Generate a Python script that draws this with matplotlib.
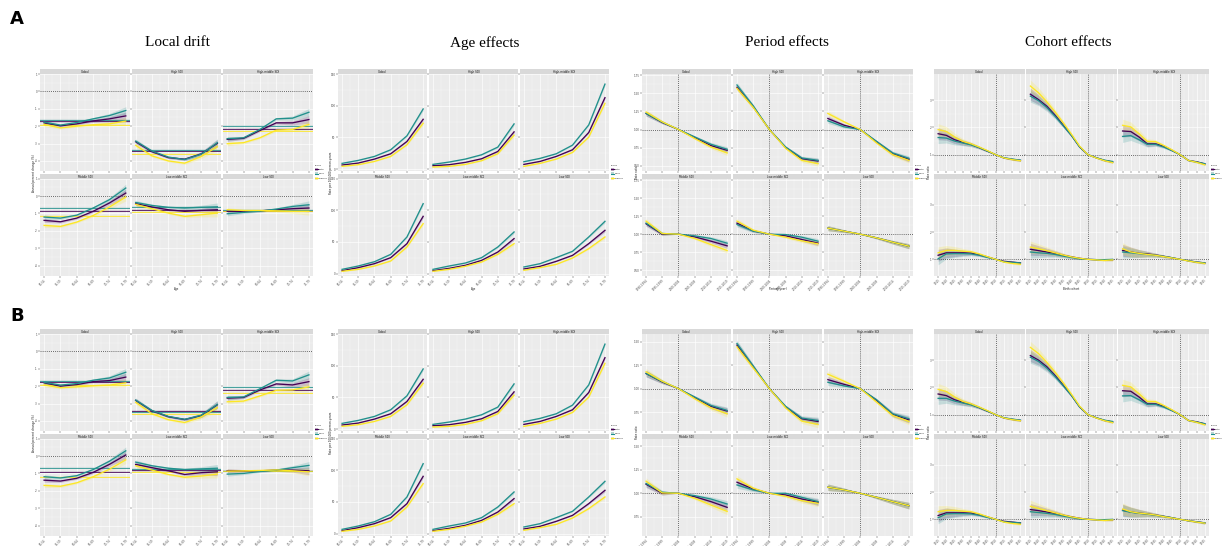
import matplotlib
matplotlib.use("Agg")
import matplotlib.pyplot as plt
from matplotlib.patches import Rectangle
import numpy as np

# ---- data ----
FACETS = ["Global", "High SDI", "High-middle SDI", "Middle SDI", "Low-middle SDI", "Low SDI"]
GROUPS = ["Both", "Male", "Female"]
COLORS = ["#440154", "#21908C", "#FDE725"]

AGES = ["50-54", "55-59", "60-64", "65-69", "70-74", "75-79"]
PERIODS = ["1990-1994", "1995-1999", "2000-2004", "2005-2009", "2010-2014", "2015-2019"]
COHORTS = ["1915", "1920", "1925", "1930", "1935", "1940", "1945", "1950", "1955", "1960", "1965"]

# local drift (Both, Male, Female) and net drift
DRIFT_A = {
    "Global":          ([-1.81, -1.98, -1.87, -1.70, -1.58, -1.41], [-1.77, -1.94, -1.79, -1.58, -1.39, -1.10], [-1.90, -2.10, -2.00, -1.92, -1.87, -1.71]),
    "High SDI":        ([-2.90, -3.47, -3.81, -3.90, -3.60, -2.99], [-2.86, -3.43, -3.78, -3.92, -3.62, -2.95], [-3.10, -3.71, -4.00, -4.13, -3.75, -3.18]),
    "High-middle SDI": ([-2.76, -2.70, -2.25, -1.81, -1.81, -1.62], [-2.72, -2.67, -2.19, -1.58, -1.54, -1.20], [-3.01, -2.95, -2.67, -2.23, -2.19, -1.90]),
    "Middle SDI":      ([-1.40, -1.48, -1.27, -0.88, -0.40, 0.17], [-1.21, -1.27, -1.10, -0.69, -0.21, 0.46], [-1.69, -1.75, -1.50, -1.12, -0.63, -0.06]),
    "Low-middle SDI":  ([-0.44, -0.63, -0.79, -0.88, -0.83, -0.79], [-0.37, -0.54, -0.65, -0.69, -0.65, -0.62], [-0.48, -0.73, -0.98, -1.17, -1.08, -0.98]),
    "Low SDI":         ([-0.88, -0.88, -0.85, -0.79, -0.73, -0.69], [-1.02, -0.94, -0.87, -0.75, -0.60, -0.50], [-0.79, -0.83, -0.83, -0.85, -0.88, -0.88]),
}
NET_A = {"Global": (-1.73, -1.62, -1.92), "High SDI": (-3.43, -3.40, -3.58), "High-middle SDI": (-2.15, -2.00, -2.30),
         "Middle SDI": (-0.85, -0.69, -1.17), "Low-middle SDI": (-0.81, -0.65, -0.94), "Low SDI": (-0.85, -0.83, -0.88)}

DRIFT_B = {
    "Global":          ([-1.81, -2.00, -1.91, -1.74, -1.68, -1.48], [-1.78, -1.94, -1.85, -1.66, -1.53, -1.20], [-1.93, -2.09, -2.04, -1.98, -1.94, -1.81]),
    "High SDI":        ([-2.82, -3.42, -3.76, -3.92, -3.70, -3.07], [-2.80, -3.40, -3.74, -3.91, -3.68, -3.05], [-2.93, -3.59, -3.93, -4.09, -3.78, -3.23]),
    "High-middle SDI": ([-2.69, -2.65, -2.22, -1.87, -1.93, -1.74], [-2.65, -2.62, -2.15, -1.66, -1.70, -1.35], [-2.90, -2.86, -2.56, -2.24, -2.22, -2.04]),
    "Middle SDI":      ([-1.39, -1.44, -1.28, -0.94, -0.48, 0.06], [-1.19, -1.26, -1.13, -0.78, -0.30, 0.30], [-1.69, -1.74, -1.54, -1.19, -0.76, -0.22]),
    "Low-middle SDI":  ([-0.48, -0.67, -0.85, -1.06, -0.96, -0.91], [-0.35, -0.56, -0.70, -0.78, -0.74, -0.70], [-0.56, -0.81, -1.06, -1.22, -1.15, -1.04]),
    "Low SDI":         ([-0.85, -0.85, -0.85, -0.81, -0.81, -0.85], [-1.04, -1.00, -0.89, -0.81, -0.67, -0.54], [-0.87, -0.85, -0.83, -0.80, -0.85, -0.91]),
}
NET_B = {"Global": (-1.78, -1.68, -1.91), "High SDI": (-3.44, -3.51, -3.61), "High-middle SDI": (-2.21, -2.06, -2.41),
         "Middle SDI": (-0.93, -0.70, -1.22), "Low-middle SDI": (-0.83, -0.74, -0.91), "Low SDI": (-0.85, -0.84, -0.86)}

# age effects, rate per 100,000
AGE_A = {
    "Global":          ([6.3, 9.4, 15.7, 24.1, 43.5, 78.5], [8.9, 13.6, 19.9, 30.4, 52.4, 94.8], [4.2, 6.8, 12.0, 19.9, 38.2, 72.3]),
    "High SDI":        ([5.2, 6.8, 10.5, 16.2, 27.7, 58.6], [7.3, 11.0, 15.7, 22.5, 34.6, 71.2], [3.1, 4.2, 7.3, 13.1, 24.1, 53.4]),
    "High-middle SDI": ([7.3, 12.0, 19.9, 30.4, 57.6, 112.6], [11.5, 16.8, 24.1, 37.7, 69.6, 134.0], [4.2, 8.9, 15.7, 26.2, 50.3, 103.7]),
    "Middle SDI":      ([4.7, 9.5, 15.8, 25.3, 47.4, 90.5], [6.8, 12.1, 18.9, 30.5, 57.9, 110.5], [3.7, 6.8, 12.1, 20.0, 42.1, 79.0]),
    "Low-middle SDI":  ([4.7, 8.4, 13.2, 21.0, 34.2, 55.3], [6.8, 12.1, 16.8, 25.3, 42.1, 65.8], [3.7, 6.8, 11.6, 18.4, 30.5, 47.4]),
    "Low SDI":         ([7.4, 11.6, 19.5, 28.9, 47.4, 68.4], [10.5, 15.8, 25.3, 35.3, 57.9, 82.6], [5.3, 9.5, 14.7, 24.7, 39.5, 57.9]),
}
AGE_B = AGE_A

# period effects, rate ratio
PERIOD_A = {
    "Global":          ([1.223, 1.098, 1.0, 0.888, 0.777, 0.712], [1.223, 1.102, 1.0, 0.898, 0.796, 0.726], [1.242, 1.107, 1.0, 0.875, 0.758, 0.675]),
    "High SDI":        ([1.586, 1.316, 1.0, 0.749, 0.596, 0.563], [1.618, 1.330, 1.0, 0.758, 0.605, 0.572], [1.572, 1.307, 1.0, 0.740, 0.572, 0.526]),
    "High-middle SDI": ([1.153, 1.060, 1.0, 0.828, 0.665, 0.586], [1.121, 1.037, 1.0, 0.837, 0.675, 0.600], [1.223, 1.107, 1.0, 0.814, 0.651, 0.572]),
    "Middle SDI":      ([1.144, 1.000, 1.0, 0.963, 0.903, 0.838], [1.153, 1.009, 1.0, 0.977, 0.940, 0.875], [1.181, 1.009, 1.0, 0.940, 0.856, 0.773]),
    "Low-middle SDI":  ([1.153, 1.046, 1.0, 0.977, 0.926, 0.875], [1.134, 1.042, 1.0, 0.995, 0.958, 0.903], [1.181, 1.056, 1.0, 0.958, 0.907, 0.866]),
    "Low SDI":         ([1.083, 1.042, 1.0, 0.949, 0.889, 0.833], [1.083, 1.042, 1.0, 0.949, 0.889, 0.833], [1.083, 1.042, 1.0, 0.949, 0.889, 0.833]),
}
PERIOD_B = {
    "Global":          ([1.161, 1.071, 1.0, 0.904, 0.811, 0.761], [1.161, 1.075, 1.0, 0.911, 0.821, 0.768], [1.179, 1.079, 1.0, 0.893, 0.796, 0.732]),
    "High SDI":        ([1.464, 1.232, 1.0, 0.804, 0.679, 0.650], [1.482, 1.243, 1.0, 0.811, 0.686, 0.661], [1.446, 1.221, 1.0, 0.796, 0.654, 0.618]),
    "High-middle SDI": ([1.096, 1.046, 1.0, 0.875, 0.725, 0.668], [1.068, 1.029, 1.0, 0.882, 0.732, 0.679], [1.154, 1.079, 1.0, 0.857, 0.714, 0.650]),
    "Middle SDI":      ([1.096, 1.000, 1.0, 0.964, 0.911, 0.850], [1.104, 1.011, 1.0, 0.975, 0.939, 0.886], [1.129, 1.004, 1.0, 0.946, 0.875, 0.807]),
    "Low-middle SDI":  ([1.118, 1.046, 1.0, 0.982, 0.939, 0.904], [1.089, 1.036, 1.0, 1.000, 0.957, 0.911], [1.154, 1.054, 1.0, 0.968, 0.921, 0.893]),
    "Low SDI":         ([1.064, 1.036, 1.0, 0.957, 0.911, 0.868], [1.064, 1.036, 1.0, 0.957, 0.911, 0.868], [1.064, 1.036, 1.0, 0.957, 0.911, 0.868]),
}

# cohort effects, rate ratio
COHORT_A = {
    "Global":          ([1.77, 1.71, 1.55, 1.45, 1.38, 1.26, 1.13, 1.0, 0.88, 0.83, 0.79],
                        [1.63, 1.61, 1.50, 1.43, 1.36, 1.26, 1.13, 1.0, 0.89, 0.84, 0.80],
                        [1.92, 1.85, 1.65, 1.49, 1.40, 1.28, 1.15, 1.0, 0.88, 0.82, 0.78]),
    "High SDI":        ([3.22, 3.02, 2.78, 2.45, 2.08, 1.71, 1.28, 1.0, 0.89, 0.79, 0.73],
                        [3.15, 2.98, 2.73, 2.41, 2.06, 1.70, 1.28, 1.0, 0.89, 0.80, 0.75],
                        [3.52, 3.27, 2.94, 2.57, 2.17, 1.75, 1.31, 1.0, 0.88, 0.78, 0.71]),
    "High-middle SDI": ([1.87, 1.85, 1.65, 1.40, 1.40, 1.31, 1.16, 1.0, 0.79, 0.74, 0.66],
                        [1.67, 1.70, 1.55, 1.38, 1.38, 1.28, 1.15, 1.0, 0.79, 0.73, 0.67],
                        [2.08, 2.02, 1.77, 1.49, 1.48, 1.34, 1.18, 1.0, 0.79, 0.72, 0.63]),
    "Middle SDI":      ([1.15, 1.24, 1.24, 1.24, 1.23, 1.17, 1.09, 1.0, 0.93, 0.90, 0.87],
                        [1.02, 1.20, 1.21, 1.21, 1.20, 1.15, 1.07, 1.0, 0.91, 0.89, 0.87],
                        [1.24, 1.33, 1.33, 1.30, 1.28, 1.20, 1.10, 1.0, 0.90, 0.85, 0.82]),
    "Low-middle SDI":  ([1.37, 1.32, 1.27, 1.22, 1.15, 1.09, 1.04, 1.0, 0.99, 0.98, 0.99],
                        [1.27, 1.24, 1.22, 1.18, 1.12, 1.07, 1.02, 1.0, 0.99, 0.99, 1.00],
                        [1.45, 1.39, 1.32, 1.24, 1.16, 1.09, 1.04, 1.0, 0.98, 0.96, 0.98]),
    "Low SDI":         ([1.33, 1.27, 1.22, 1.20, 1.16, 1.11, 1.06, 1.0, 0.95, 0.90, 0.87],
                        [1.27, 1.24, 1.21, 1.18, 1.15, 1.11, 1.06, 1.0, 0.95, 0.90, 0.87],
                        [1.39, 1.27, 1.22, 1.18, 1.15, 1.10, 1.05, 1.0, 0.94, 0.89, 0.85]),
}
COHORT_B = {
    "Global":          ([1.76, 1.70, 1.55, 1.45, 1.38, 1.26, 1.13, 1.0, 0.88, 0.83, 0.79],
                        [1.60, 1.60, 1.50, 1.43, 1.36, 1.26, 1.13, 1.0, 0.89, 0.84, 0.80],
                        [1.93, 1.85, 1.65, 1.49, 1.40, 1.28, 1.15, 1.0, 0.88, 0.82, 0.78]),
    "High SDI":        ([3.17, 3.00, 2.76, 2.44, 2.08, 1.71, 1.28, 1.0, 0.89, 0.79, 0.73],
                        [3.11, 2.95, 2.71, 2.40, 2.06, 1.70, 1.28, 1.0, 0.89, 0.80, 0.75],
                        [3.47, 3.24, 2.92, 2.56, 2.17, 1.75, 1.31, 1.0, 0.88, 0.78, 0.71]),
    "High-middle SDI": ([1.88, 1.86, 1.65, 1.40, 1.40, 1.31, 1.16, 1.0, 0.79, 0.74, 0.66],
                        [1.69, 1.70, 1.55, 1.38, 1.38, 1.28, 1.15, 1.0, 0.79, 0.73, 0.67],
                        [2.08, 2.02, 1.77, 1.49, 1.48, 1.34, 1.18, 1.0, 0.79, 0.72, 0.63]),
    "Middle SDI":      ([1.14, 1.24, 1.24, 1.24, 1.23, 1.17, 1.09, 1.0, 0.93, 0.90, 0.87],
                        [1.06, 1.20, 1.21, 1.21, 1.20, 1.15, 1.07, 1.0, 0.91, 0.89, 0.87],
                        [1.28, 1.33, 1.33, 1.30, 1.28, 1.20, 1.10, 1.0, 0.90, 0.85, 0.82]),
    "Low-middle SDI":  ([1.36, 1.32, 1.27, 1.22, 1.15, 1.09, 1.04, 1.0, 0.99, 0.98, 0.99],
                        [1.28, 1.25, 1.22, 1.18, 1.12, 1.07, 1.02, 1.0, 0.99, 0.99, 1.00],
                        [1.48, 1.40, 1.32, 1.24, 1.16, 1.09, 1.04, 1.0, 0.98, 0.96, 0.98]),
    "Low SDI":         ([1.34, 1.27, 1.23, 1.20, 1.16, 1.11, 1.06, 1.0, 0.95, 0.91, 0.87],
                        [1.32, 1.26, 1.22, 1.19, 1.15, 1.11, 1.06, 1.0, 0.95, 0.91, 0.87],
                        [1.38, 1.28, 1.23, 1.20, 1.16, 1.10, 1.05, 1.0, 0.95, 0.90, 0.86]),
}

# approximate half-widths of the confidence ribbons
DRIFT_CI = [0.12, 0.07, 0.06, 0.07, 0.12, 0.22]
AGE_CI = [0.5, 0.5, 0.6, 0.8, 1.2, 2.5]
PERIOD_CI = [0.035, 0.02, 0.0, 0.015, 0.025, 0.035]
COHORT_CI = [0.22, 0.18, 0.14, 0.1, 0.07, 0.05, 0.03, 0.0, 0.02, 0.03, 0.04]

W, H = 1222, 546
fig = plt.figure(figsize=(W / 100, H / 100), dpi=100)
TXT = 2.0
LEG = 1.7


def px_axes(x0, y0, x1, y1):
    return fig.add_axes([x0 / W, 1 - y1 / H, (x1 - x0) / W, (y1 - y0) / H])


def legend(lx, ly):
    lg = px_axes(lx, ly, lx + 12, ly + 19)
    lg.set_xlim(0, 12)
    lg.set_ylim(19, 0)
    lg.axis("off")
    lg.text(0, 1.5, "group", fontsize=LEG, va="center", color="#1A1A1A")
    for k, (g, c) in enumerate(zip(GROUPS, COLORS)):
        y = 4 + k * 4.5
        lg.add_patch(Rectangle((0, y), 3.3, 3.3, facecolor="#EBEBEB", edgecolor="none"))
        lg.add_patch(Rectangle((0.2, y + 0.2), 2.9, 2.9, facecolor=c, alpha=0.25, edgecolor="none"))
        lg.plot([0.2, 3.1], [y + 1.65, y + 1.65], color=c, lw=0.8)
        lg.text(4.0, y + 1.65, g, fontsize=LEG, va="center", color="#1A1A1A")


def block(x0, x1, y0, y1, data, xlabels, ci, ylim, yticks, ylabs, ylabel, xlabel,
          net=None, hline=None, vline=None, xpad=0.25, ylab_dx=5.5):
    strip_h, hgap, vgap = 4.7, 1.7, 2.6
    fw = (x1 - x0 - 2 * hgap) / 3
    ph = (y1 - y0 - 2 * strip_h - vgap) / 2
    n = len(xlabels)
    x = np.arange(n)
    for i, name in enumerate(FACETS):
        r, c = divmod(i, 3)
        fx0 = x0 + c * (fw + hgap)
        st = y0 + r * (strip_h + ph + vgap)
        s = px_axes(fx0, st, fx0 + fw, st + strip_h)
        s.set_facecolor("#D9D9D9")
        s.set_xticks([])
        s.set_yticks([])
        for sp in s.spines.values():
            sp.set_visible(False)
        s.text(0.5, 0.45, name, transform=s.transAxes, ha="center", va="center",
               fontsize=TXT, color="#1A1A1A")

        ax = px_axes(fx0, st + strip_h, fx0 + fw, st + strip_h + ph)
        ax.set_facecolor("#EBEBEB")
        for sp in ax.spines.values():
            sp.set_visible(False)
        ax.set_xlim(-xpad, n - 1 + xpad)
        ax.set_ylim(*ylim)
        ax.set_xticks(x)
        ax.set_xticks(x[:-1] + 0.5, minor=True)
        ax.set_yticks(yticks)
        ax.set_yticks(np.array(yticks[:-1]) + (yticks[1] - yticks[0]) / 2, minor=True)
        ax.grid(True, which="major", color="white", lw=0.45)
        ax.grid(True, which="minor", color="white", lw=0.2)
        ax.set_axisbelow(True)
        ax.tick_params(which="major", length=1.2, width=0.3, color="#333333",
                       labelsize=TXT, pad=0.6, labelcolor="#4D4D4D")
        ax.tick_params(which="minor", length=0)
        if r == 1:
            ax.set_xticklabels(xlabels, rotation=45, ha="right", rotation_mode="anchor")
        else:
            ax.set_xticklabels([])
        if c == 0:
            ax.set_yticklabels(ylabs)
        else:
            ax.set_yticklabels([])

        if hline is not None:
            ax.axhline(hline, color="#333333", lw=0.5, ls=(0, (1.5, 1.5)))
        if vline is not None:
            ax.axvline(vline, color="#333333", lw=0.5, ls=(0, (1.5, 1.5)))
        if net is not None:
            for v, col in zip(net[name], COLORS):
                ax.axhspan(v - 0.06, v + 0.06, color=col, alpha=0.12, lw=0)
                ax.axhline(v, color=col, lw=0.7, alpha=0.8)
        for vals, col in zip(data[name], COLORS):
            vals = np.array(vals)
            w = np.array(ci)
            ax.fill_between(x, vals - w, vals + w, color=col, alpha=0.2, lw=0)
            ax.plot(x, vals, color=col, lw=0.95)

    fig.text((x0 - ylab_dx) / W, 1 - ((y0 + y1) / 2) / H, ylabel, rotation=90,
             ha="center", va="center", fontsize=TXT, color="#1A1A1A")
    fig.text(((x0 + x1) / 2) / W, 1 - (y1 + 13) / H, xlabel, ha="center", va="center",
             fontsize=TXT, color="#1A1A1A")
    legend(x1 + 1.5, (y0 + y1) / 2 - 9)


COLS = [(40, 313), (338, 609), (642, 913), (934, 1209)]
ROWS = [(69.3, 276), (329.3, 536)]
sets = [(DRIFT_A, NET_A, AGE_A, PERIOD_A, COHORT_A), (DRIFT_B, NET_B, AGE_B, PERIOD_B, COHORT_B)]
period_lims = [(0.42, 1.77), (0.545, 1.582)]
period_ticks = [[0.5, 0.75, 1.0, 1.25, 1.5, 1.75], [0.75, 1.0, 1.25, 1.5]]

for ri, (y0, y1) in enumerate(ROWS):
    drift, net, age, period, cohort = sets[ri]
    block(*COLS[0], y0, y1, drift, AGES, DRIFT_CI, (-4.6, 1.0), [-4, -3, -2, -1, 0, 1],
          ["-4", "-3", "-2", "-1", "0", "1"], "Annual percent change (%)", "Age",
          net=net, hline=0)
    block(*COLS[1], y0, y1, age, AGES, AGE_CI, (-3.7, 150), [0, 50, 100, 150],
          ["0", "50", "100", "150"], "Rate per 100,000 person-years", "Age", ylab_dx=7.3)
    pt = period_ticks[ri]
    block(*COLS[2], y0, y1, period, PERIODS, PERIOD_CI, period_lims[ri], pt,
          ["%.2f" % t for t in pt], "Rate ratio", "Period (year)", hline=1.0, vline=2)
    block(*COLS[3], y0, y1, cohort, COHORTS, COHORT_CI, (0.39, 3.96), [1, 2, 3],
          ["1", "2", "3"], "Rate ratio", "Birth cohort", hline=1.0, vline=7, xpad=0.5)

fig.text(10 / W, 1 - 19 / H, "A", fontsize=13, fontweight="bold", va="center", ha="left")
fig.text(10 / W, 1 - 316 / H, "B", fontsize=13, fontweight="bold", va="center", ha="left")
for (cx, t) in [(177, "Local drift"), (485, "Age effects"), (787, "Period effects"), (1068, "Cohort effects")]:
    fig.text(cx / W, 1 - 43 / H, t, fontsize=11, family="Liberation Serif", ha="center", va="center")

fig.savefig("out.png", dpi=100)
